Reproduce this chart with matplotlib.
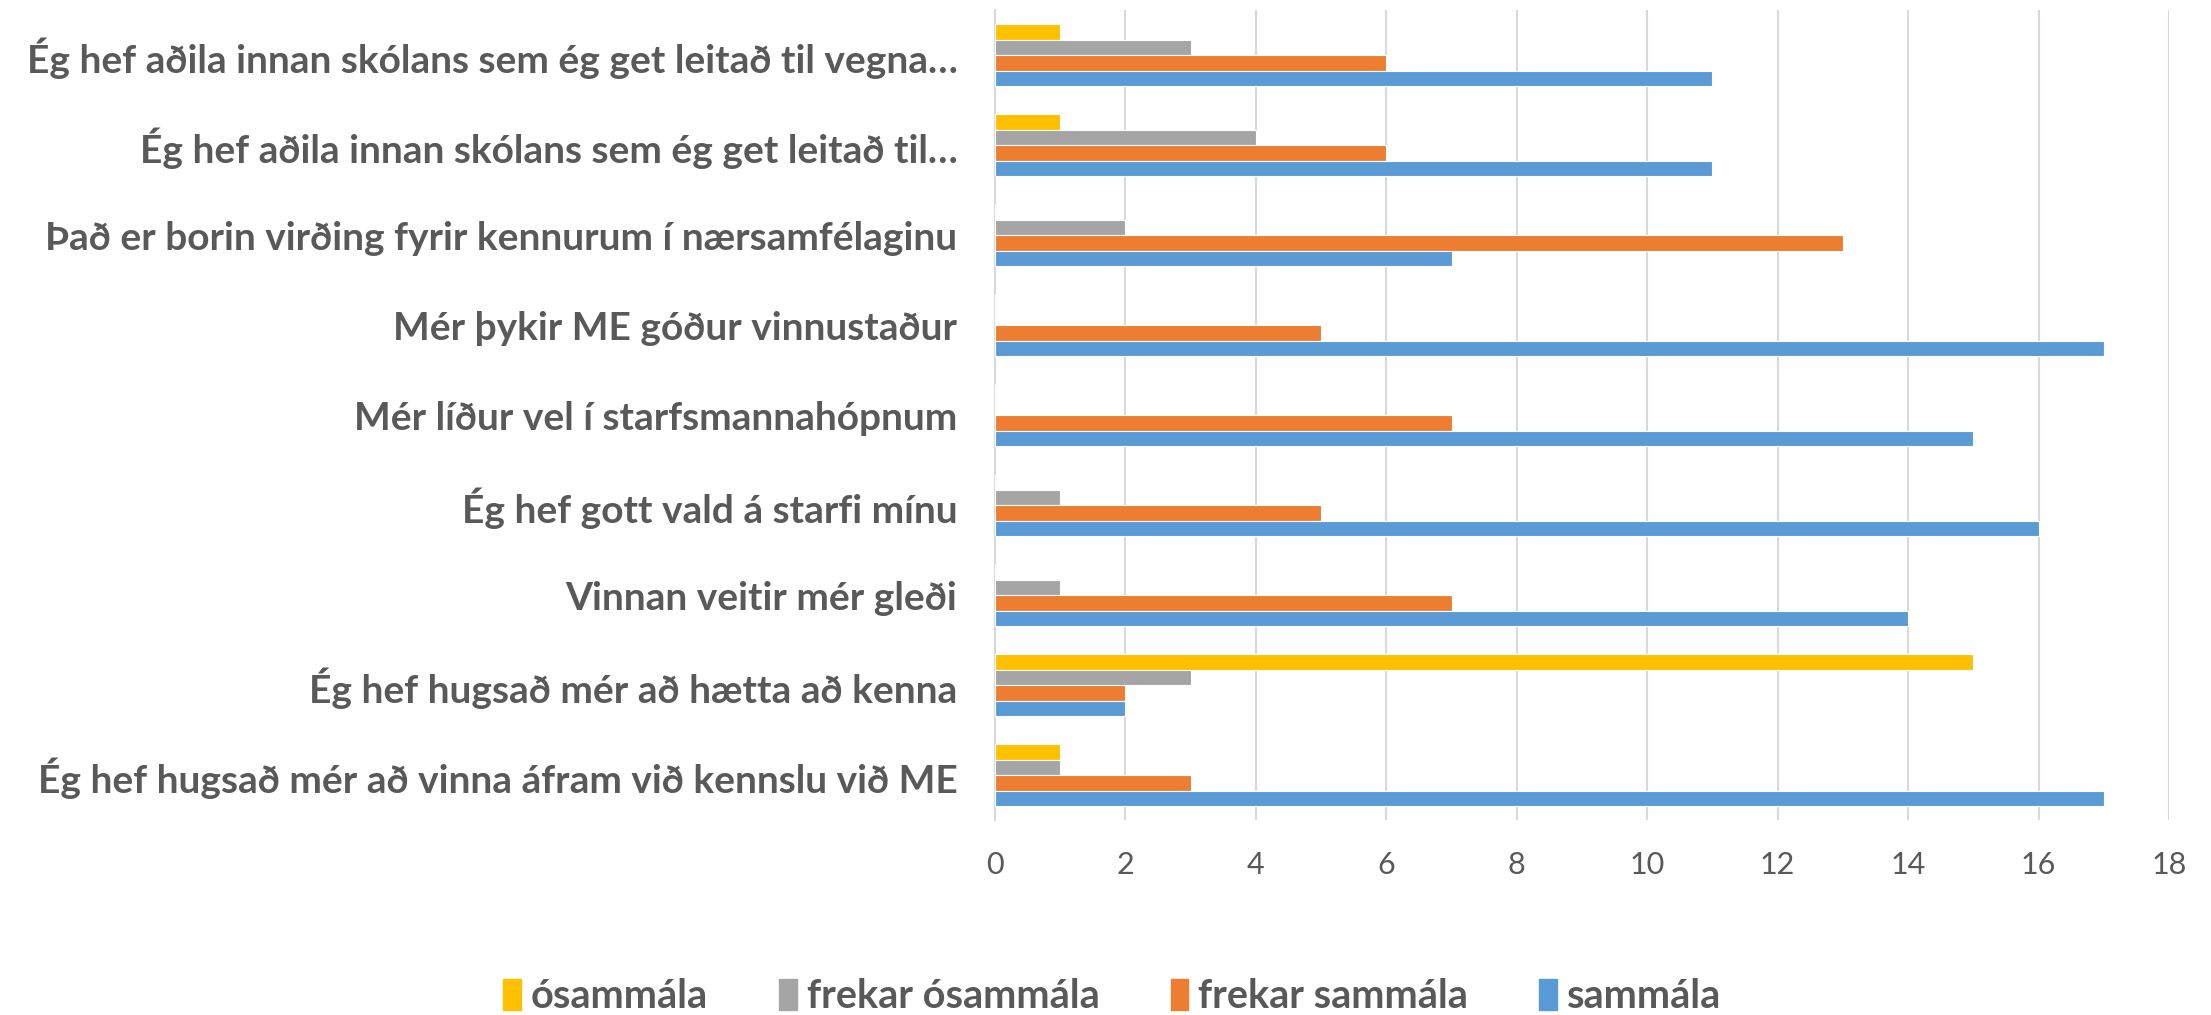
import matplotlib
matplotlib.use("Agg")
import matplotlib.pyplot as plt
import numpy as np
from matplotlib.patches import Patch

categories = [
    "Ég hef hugsað mér að vinna áfram við kennslu við ME",
    "Ég hef hugsað mér að hætta að kenna",
    "Vinnan veitir mér gleði",
    "Ég hef gott vald á starfi mínu",
    "Mér líður vel í starfsmannahópnum",
    "Mér þykir ME góður vinnustaður",
    "Það er borin virðing fyrir kennurum í nærsamfélaginu",
    "Ég hef aðila innan skólans sem ég get leitað til…",
    "Ég hef aðila innan skólans sem ég get leitað til vegna…",
]
series_names = ["ósammála", "frekar ósammála", "frekar sammála", "sammála"]
osammala = [1, 15, 0, 0, 0, 0, 0, 1, 1]
frekar_osammala = [1, 3, 1, 1, 0, 0, 2, 4, 3]
frekar_sammala = [3, 2, 7, 5, 7, 5, 13, 6, 6]
sammala = [17, 2, 14, 16, 15, 17, 7, 11, 11]
xticks = list(range(0, 20, 2))

colors = ["#FFC000", "#A5A5A5", "#ED7D31", "#5B9BD5"]
text_color = "#595959"
label_font = ["Lato", "DejaVu Sans"]

fig = plt.figure(figsize=(22.11, 10.15), dpi=100)
ax = fig.add_axes([0.450, 0.192, 0.531, 0.798])

y = np.arange(len(categories))
h = 0.172
data = [osammala, frekar_osammala, frekar_sammala, sammala]
offsets = [1.5 * h, 0.5 * h, -0.5 * h, -1.5 * h]
for vals, col, off, name in zip(data, colors, offsets, series_names):
    ax.barh(y + off, vals, height=h, color=col, edgecolor="white",
            linewidth=0.8, label=name, zorder=3)

ax.set_xlim(0, 18)
ax.set_ylim(-0.5, len(categories) - 0.5)
ax.set_xticks(xticks)
ax.set_xticklabels([str(t) for t in xticks], fontsize=22, color=text_color,
                   family=label_font)
ax.set_yticks(y)
ax.set_yticklabels(categories, fontsize=28, fontweight="bold",
                   color=text_color, family=label_font)
ax.tick_params(axis="both", length=0)
ax.tick_params(axis="y", pad=27)
ax.tick_params(axis="x", pad=22)
ax.grid(axis="x", color="#D9D9D9", linewidth=1.5, zorder=0)
for s in ["top", "right", "bottom"]:
    ax.spines[s].set_visible(False)
ax.spines["left"].set_color("#D9D9D9")
ax.spines["left"].set_linewidth(1.5)

handles = [Patch(facecolor=c, edgecolor=c) for c in colors]
leg = fig.legend(handles, series_names, loc="center", bbox_to_anchor=(0.503, 0.018),
                 ncol=4, frameon=False, handletextpad=0.25, columnspacing=1.8,
                 handlelength=0.45, handleheight=0.8,
                 prop={"family": label_font, "size": 28.5, "weight": "bold"})
for t in leg.get_texts():
    t.set_color(text_color)

fig.savefig("out.png", dpi=100)
